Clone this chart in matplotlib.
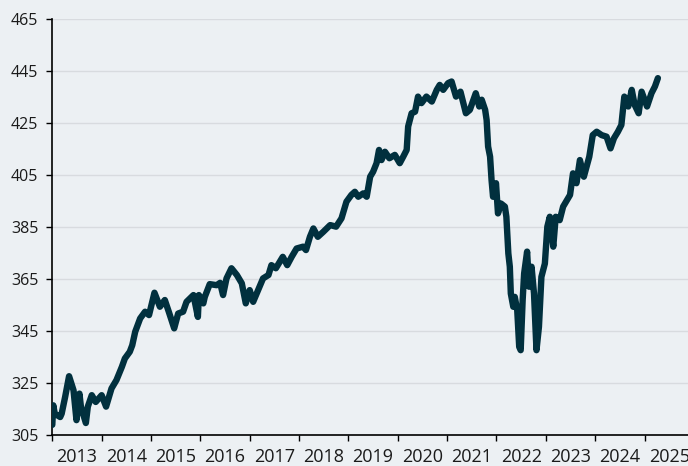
import numpy as np
import matplotlib
matplotlib.use("Agg")
import matplotlib.pyplot as plt

# decimal years and index level
years = [
    2013.00, 2013.02, 2013.05, 2013.16, 2013.19, 2013.26, 2013.34, 2013.43, 2013.49, 2013.55,
    2013.58, 2013.68, 2013.72, 2013.80, 2013.88, 2014.00, 2014.09, 2014.20, 2014.30, 2014.41,
    2014.47, 2014.57, 2014.62, 2014.68, 2014.78, 2014.88, 2014.96, 2015.07, 2015.18, 2015.28,
    2015.36, 2015.47, 2015.55, 2015.65, 2015.72, 2015.86, 2015.95, 2015.97, 2016.06, 2016.09,
    2016.19, 2016.33, 2016.40, 2016.46, 2016.53, 2016.63, 2016.74, 2016.84, 2016.92, 2017.00,
    2017.07, 2017.17, 2017.27, 2017.38, 2017.44, 2017.53, 2017.67, 2017.76, 2017.85, 2017.95,
    2018.08, 2018.14, 2018.22, 2018.29, 2018.38, 2018.49, 2018.63, 2018.75, 2018.86, 2018.93,
    2018.96, 2019.06, 2019.13, 2019.20, 2019.30, 2019.37, 2019.44, 2019.50, 2019.57, 2019.62,
    2019.67, 2019.74, 2019.83, 2019.94, 2020.04, 2020.11, 2020.18, 2020.21, 2020.28, 2020.35,
    2020.41, 2020.48, 2020.58, 2020.69, 2020.79, 2020.85, 2020.92, 2021.02, 2021.09, 2021.18,
    2021.27, 2021.38, 2021.46, 2021.58, 2021.65, 2021.70, 2021.77, 2021.80, 2021.83, 2021.87,
    2021.90, 2021.93, 2021.99, 2022.03, 2022.09, 2022.17, 2022.20, 2022.24, 2022.27, 2022.29,
    2022.34, 2022.37, 2022.42, 2022.46, 2022.49, 2022.53, 2022.56, 2022.62, 2022.66, 2022.71,
    2022.76, 2022.81, 2022.86, 2022.91, 2022.98, 2023.03, 2023.08, 2023.15, 2023.20, 2023.28,
    2023.35, 2023.41, 2023.49, 2023.55, 2023.62, 2023.69, 2023.77, 2023.88, 2023.95, 2024.03,
    2024.13, 2024.23, 2024.31, 2024.38, 2024.46, 2024.53, 2024.59, 2024.67, 2024.74, 2024.80,
    2024.88, 2024.94, 2025.05, 2025.14, 2025.21, 2025.27,
]
values = [
    309.0, 316.5, 313.3, 312.0, 313.3, 319.7, 327.7, 322.3, 310.8, 321.0,
    316.0, 309.7, 316.0, 320.4, 317.8, 320.4, 316.0, 323.0, 326.2, 331.3,
    334.5, 337.1, 339.6, 344.8, 349.9, 352.5, 351.2, 359.8, 354.4, 357.0,
    352.5, 346.1, 351.8, 352.5, 356.3, 358.9, 350.5, 358.9, 355.7, 358.2,
    363.1, 362.7, 363.6, 358.9, 365.3, 369.2, 366.6, 363.4, 355.7, 360.8,
    356.3, 360.8, 365.3, 366.6, 370.4, 369.2, 373.6, 370.4, 373.6, 376.8,
    377.5, 376.2, 381.3, 384.5, 381.3, 383.2, 385.8, 385.2, 388.4, 392.9,
    394.8, 397.4, 398.6, 396.7, 398.0, 396.7, 404.4, 406.3, 409.6, 414.7,
    410.8, 414.0, 411.5, 412.8, 409.6, 412.1, 414.7, 423.7, 428.8, 429.4,
    435.2, 432.7, 435.2, 433.3, 437.8, 439.7, 437.8, 440.4, 441.0, 435.2,
    437.1, 428.8, 430.1, 436.5, 431.4, 434.0, 430.1, 426.2, 416.0, 412.1,
    403.1, 396.7, 401.9, 390.3, 394.1, 392.9, 389.0, 374.9, 369.8, 359.5,
    354.4, 358.2, 353.1, 339.0, 337.7, 357.0, 367.2, 375.6, 362.1, 369.8,
    359.5, 337.7, 346.7, 365.9, 371.0, 385.2, 389.0, 377.5, 389.0, 387.7,
    392.9, 394.8, 397.4, 405.7, 401.9, 410.8, 404.4, 412.1, 420.4, 421.7,
    420.4, 419.8, 415.3, 419.2, 421.7, 424.3, 435.2, 431.4, 437.8, 432.0,
    428.8, 437.1, 431.4, 436.5, 439.1, 442.3,
]
year_labels = [str(y) for y in range(2013, 2026)]
y_ticks = [305, 325, 345, 365, 385, 405, 425, 445, 465]

bg = "#ecf0f3"
line_color = "#01303e"

plt.rcParams["font.family"] = ["Open Sans", "DejaVu Sans"]

fig = plt.figure(figsize=(6.88, 4.66), dpi=100)
fig.patch.set_facecolor(bg)
ax = fig.add_axes([0.076, 0.066, 0.924, 0.893])
ax.set_facecolor(bg)

ax.plot(years, values, color=line_color, lw=4.6, solid_joinstyle="round",
        solid_capstyle="round", zorder=3)

ax.set_xlim(2013, 2025.88)
ax.set_ylim(305, 465)

# year ticks at year start, labels centred mid-year
ax.set_xticks(range(2013, 2026))
ax.set_xticklabels([])
ax.set_xticks([y + 0.5 for y in range(2013, 2026)], minor=True)
ax.set_xticklabels(year_labels, minor=True, fontsize=13, color="#1a1a1a")
ax.tick_params(axis="x", which="major", length=4, width=1, color="black", direction="out")
ax.tick_params(axis="x", which="minor", length=0, pad=9)

ax.set_yticks(y_ticks)
ax.set_yticklabels([str(v) for v in y_ticks], fontsize=11.5, color="#1a1a1a")
ax.tick_params(axis="y", length=4, width=1, color="black", pad=6)

ax.grid(axis="y", color="#d8dbdf", lw=1)
ax.set_axisbelow(True)
for side in ["top", "right"]:
    ax.spines[side].set_visible(False)
for side in ["left", "bottom"]:
    ax.spines[side].set_color("black")
    ax.spines[side].set_linewidth(1.2)

fig.savefig("out.png", dpi=100, facecolor=bg)
